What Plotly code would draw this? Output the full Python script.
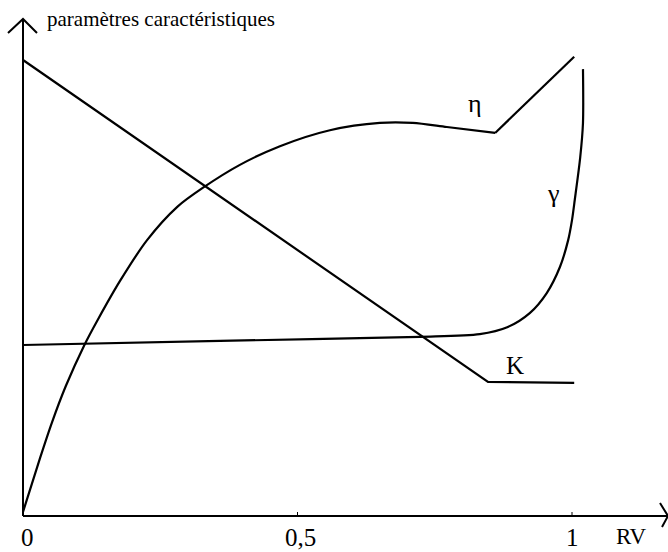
import plotly.graph_objects as go

# Abscissa: RV
tick_vals = [0, 0.5, 1]
tick_text = ["0", "0,5", "1"]

# K: linear decrease, then constant
K_x = [0.0, 0.847, 1.004]
K_y = [1.0, 0.294, 0.292]

# eta: rising curve up to the break point, then straight rise
eta_x = [0.0, 0.031, 0.053, 0.078, 0.111, 0.137, 0.177, 0.226, 0.281, 0.328,
         0.395, 0.468, 0.559, 0.650, 0.710, 0.772, 0.860, 1.004]
eta_y = [0.009, 0.127, 0.206, 0.285, 0.373, 0.432, 0.516, 0.605, 0.678, 0.720,
         0.770, 0.811, 0.846, 0.862, 0.862, 0.853, 0.840, 1.007]

# gamma: nearly flat, then steep rise near RV = 1
gamma_x = [0.0, 0.359, 0.723, 0.832, 0.882, 0.923, 0.954, 0.978, 0.993, 1.000,
           1.005, 1.015, 1.020, 1.020]
gamma_y = [0.375, 0.384, 0.393, 0.399, 0.414, 0.445, 0.489, 0.546, 0.605, 0.649,
           0.693, 0.787, 0.862, 0.980]

# frame geometry (data units)
X_MIN, X_MAX = -23 / 549, 645 / 549
Y_MIN, Y_MAX = -36 / 456, 516 / 456
Y_TIP = 497 / 456
X_TIP = 645 / 549

INK = "black"
LW = 2.2
SERIF = "Liberation Serif, Times New Roman, Times, serif"

fig = go.Figure()

line_style = dict(color=INK, width=LW)
curve_style = dict(color=INK, width=LW, shape="spline", smoothing=0.8)
fig.add_trace(go.Scatter(x=K_x, y=K_y, mode="lines", line=line_style))
fig.add_trace(go.Scatter(x=eta_x[:-1], y=eta_y[:-1], mode="lines", line=curve_style))
fig.add_trace(go.Scatter(x=eta_x[-2:], y=eta_y[-2:], mode="lines", line=line_style))
fig.add_trace(go.Scatter(x=gamma_x, y=gamma_y, mode="lines", line=curve_style))

# axes with arrow heads
axis_style = dict(color=INK, width=2)
shapes = [
    dict(type="line", x0=0, y0=0, x1=0, y1=Y_TIP, line=axis_style),
    dict(type="line", x0=0, y0=0, x1=X_TIP, y1=0, line=axis_style),
    dict(type="path",
         path=f"M {-15/549} {483/456} L 0 {Y_TIP} L {14/549} {483/456}",
         line=axis_style),
    dict(type="path",
         path=f"M {637/549} {13/456} L {X_TIP} 0 L {639/549} {-11/456}",
         line=axis_style),
]
for v in tick_vals[1:]:
    shapes.append(dict(type="line", x0=v, y0=0, x1=v, y1=4 / 456,
                       line=dict(color=INK, width=1)))
for s in shapes:
    s.update(xref="x", yref="y")

annotations = []
label_pos = {"0": 0.009, "0,5": 0.505, "1": 1.0}
for t in tick_text:
    annotations.append(dict(x=label_pos[t], y=-21 / 456, text=t, showarrow=False,
                            font=dict(family=SERIF, size=25, color=INK)))
annotations += [
    dict(x=1.1075, y=-20 / 456, text="RV", showarrow=False,
         font=dict(family=SERIF, size=23, color=INK)),
    dict(x=22 / 549, y=497 / 456, text="paramètres caractéristiques", showarrow=False,
         xanchor="left", font=dict(family=SERIF, size=21, color=INK)),
    dict(x=452 / 549, y=413 / 456, text="η", showarrow=False,
         font=dict(family=SERIF, size=26, color=INK)),
    dict(x=530 / 549, y=323 / 456, text="γ", showarrow=False,
         font=dict(family=SERIF, size=26, color=INK)),
    dict(x=492 / 549, y=151 / 456, text="K", showarrow=False,
         font=dict(family=SERIF, size=25, color=INK)),
]

fig.update_layout(
    width=668, height=552,
    margin=dict(l=0, r=0, t=0, b=0),
    paper_bgcolor="white", plot_bgcolor="white",
    showlegend=False,
    xaxis=dict(range=[X_MIN, X_MAX], visible=False, fixedrange=True),
    yaxis=dict(range=[Y_MIN, Y_MAX], visible=False, fixedrange=True),
    shapes=shapes,
    annotations=annotations,
)

fig.write_html("out.html")
